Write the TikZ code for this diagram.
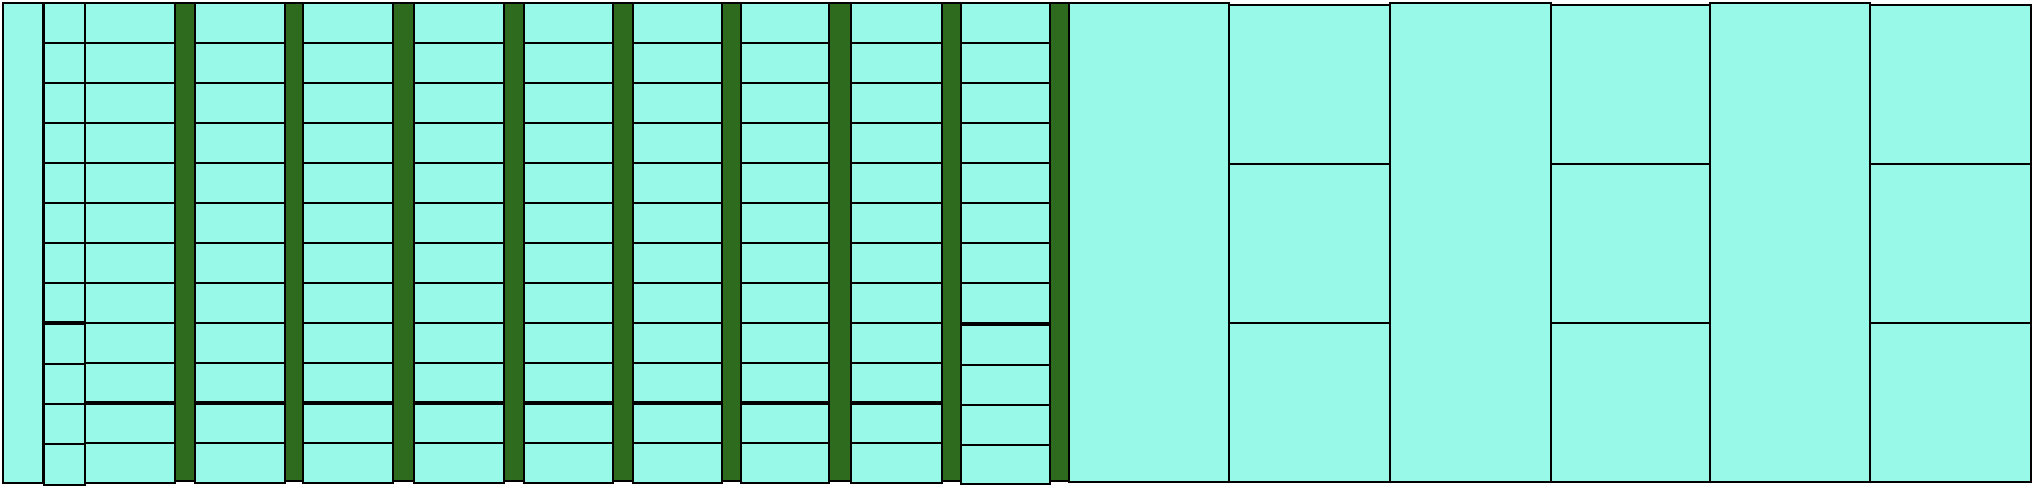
\documentclass[tikz,border=0pt]{standalone}
\definecolor{cellc}{RGB}{153,249,233}
\definecolor{barc}{RGB}{47,107,31}
\tikzset{
  cell/.style={fill=cellc,draw=black,line width=0.7pt},
  bar/.style={fill=barc,draw=black,line width=1pt},
  heavy/.style={draw=black,line width=1.7pt},
  edge/.style={draw=black,line width=1.4pt}
}
\begin{document}
\begin{tikzpicture}[x=0.5pt,y=-0.5pt]
\useasboundingbox (0,0) rectangle (2034,488);
% first tall column
\draw[cell] (3,3) rectangle (43,483);
% small column
\foreach \k in {0,...,7}
  \draw[cell] (44,{3+40*\k}) rectangle (85,{43+40*\k});
\foreach \ya/\yb in {323/364,364/404,404/444,444/485}
  \draw[cell] (44,\ya) rectangle (85,\yb);
\draw[heavy] (44,323) -- (85,323);
\draw[edge] (44,3) -- (44,485);
% long columns with green bars
\foreach \xa/\xb/\gb in {85/175/195,195/285/303,303/393/414,414/504/524,524/613/633,633/722/741,741/829/851,851/942/961}{
  \foreach \k in {0,...,11}
    \draw[cell] (\xa,{3+40*\k}) rectangle (\xb,{43+40*\k});
  \draw[heavy] (\xa,403) -- (\xb,403);
  \draw[bar] (\xb,3) rectangle (\gb,481);
  \draw[edge] (\gb,3) -- (\gb,484);
}
% last narrow column
\foreach \k in {0,...,7}
  \draw[cell] (961,{3+40*\k}) rectangle (1050,{43+40*\k});
\foreach \ya/\yb in {324/365,365/405,405/445,445/484}
  \draw[cell] (961,\ya) rectangle (1050,\yb);
\draw[heavy] (961,324) -- (1050,324);
\draw[bar] (1050,3) rectangle (1069,481);
% big section
\foreach \xa/\xb in {1069/1229,1390/1551,1710/1870}
  \draw[cell] (\xa,3) rectangle (\xb,482);
\foreach \xa/\xb in {1229/1390,1551/1710,1870/2031}{
  \draw[cell] (\xa,5) rectangle (\xb,164);
  \draw[cell] (\xa,164) rectangle (\xb,323);
  \draw[cell] (\xa,323) rectangle (\xb,482);
  \draw[edge] (\xa,5) -- (\xa,482);
}
\end{tikzpicture}
\end{document}
